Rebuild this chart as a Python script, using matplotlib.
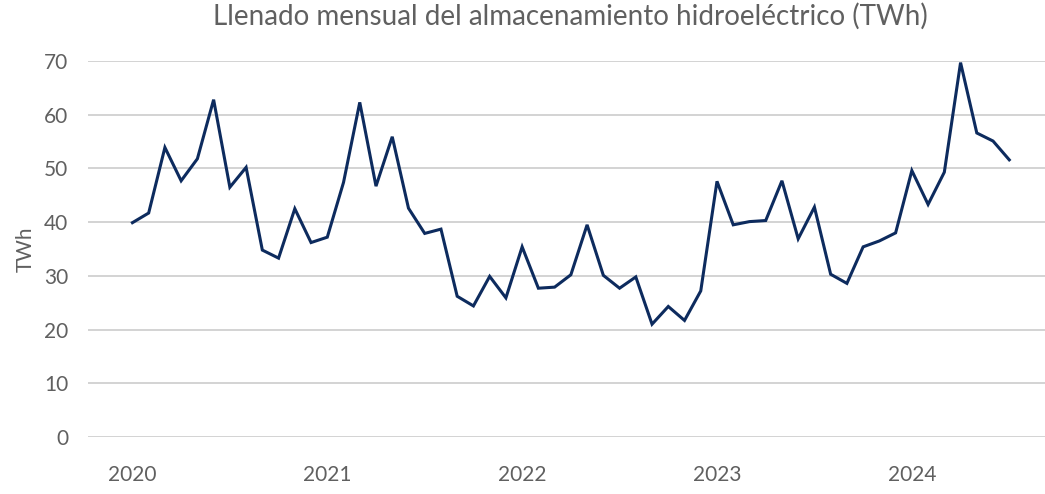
import matplotlib
matplotlib.use('Agg')
import matplotlib.pyplot as plt
import numpy as np

# Llenado mensual, enero 2020 - julio 2024 (TWh)
valores = [39.9, 41.7, 53.9, 47.7, 51.8, 62.8, 46.5, 50.2, 34.8, 33.3, 42.5, 36.2,
           37.2, 47.4, 62.3, 46.7, 55.9, 42.6, 37.9, 38.7, 26.2, 24.4, 29.9, 25.9,
           35.4, 27.7, 27.9, 30.2, 39.5, 30.1, 27.7, 29.8, 21.0, 24.3, 21.7, 27.2,
           47.6, 39.5, 40.1, 40.3, 47.7, 36.9, 42.8, 30.3, 28.6, 35.4, 36.5, 38.0,
           49.6, 43.3, 49.3, 69.7, 56.6, 55.1, 51.6]
anios = ["2020", "2021", "2022", "2023", "2024"]

gris = "#606060"
plt.rcParams['font.family'] = ['Lato', 'DejaVu Sans']

fig = plt.figure(figsize=(10.45, 4.94), dpi=100)
ax = fig.add_axes([0.084, 0.1154, 0.916, 0.7611])

meses = np.arange(len(valores))
ax.plot(meses, valores, color="#0d2b5e", linewidth=2.2, solid_joinstyle='miter')

ax.set_ylim(0, 70)
ax.set_yticks(range(0, 71, 10))
ax.set_xlim(-2.75, 56.2)
ax.set_xticks(np.arange(len(anios)) * 12)
ax.set_xticklabels(anios)

ax.grid(axis='y', color="#d0d0d0", linewidth=1.3)
ax.set_axisbelow(True)
for s in ax.spines.values():
    s.set_visible(False)
ax.tick_params(axis='both', length=0, labelsize=15, labelcolor=gris)
ax.tick_params(axis='x', pad=20)
ax.tick_params(axis='y', pad=14)

ax.set_ylabel("TWh", fontsize=15, color=gris, labelpad=6)
fig.suptitle("Llenado mensual del almacenamiento hidroeléctrico (TWh)",
             fontsize=20, color=gris, y=0.995, x=0.546)

plt.savefig("out.png", dpi=100)
